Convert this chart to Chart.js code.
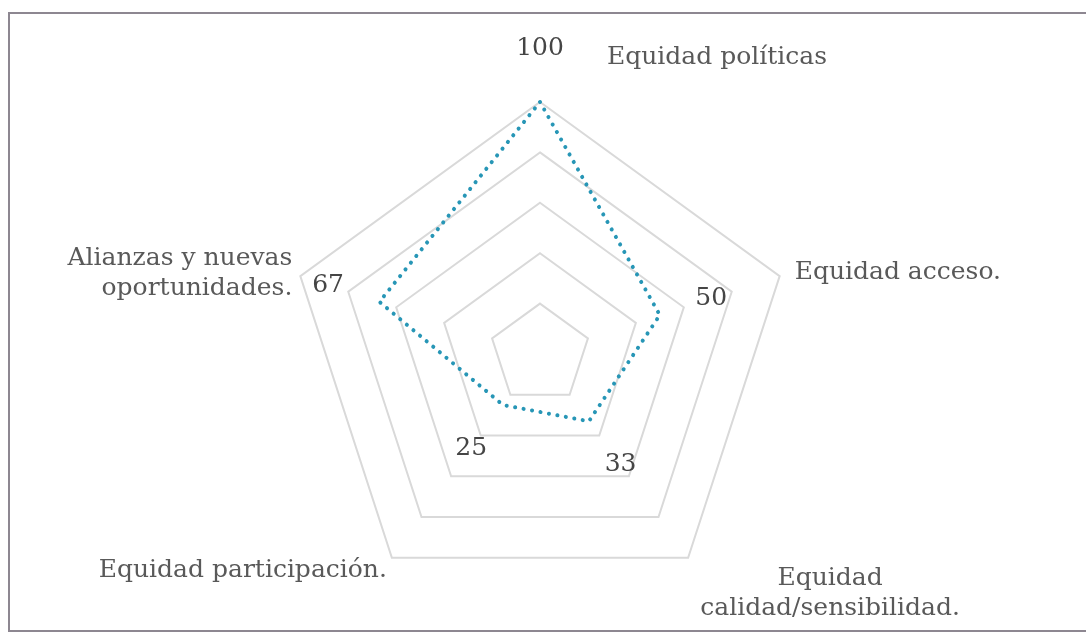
<!DOCTYPE html>
<html>
<head>
<meta charset="utf-8">
<script src="https://cdn.jsdelivr.net/npm/chart.js@4.4.1/dist/chart.umd.min.js"></script>
<style>
  html, body { margin: 0; padding: 0; background: #ffffff; }
  #wrap { position: relative; width: 1086px; height: 632px; overflow: hidden; }
  #frame { position: absolute; left: 8px; top: 12px; width: 1100px; height: 620px; border: 2px solid #8d8791; box-sizing: border-box; }
</style>
</head>
<body>
<div id="wrap">
  <canvas id="radarChart"></canvas>
  <div id="frame"></div>
</div>
<script>
// categories (axis names), one line per entry in each sub array
const categories = [
    ['Equidad políticas'],
    ['Equidad acceso.'],
    ['Equidad', 'calidad/sensibilidad.'],
    ['Equidad participación.'],
    ['Alianzas y nuevas', 'oportunidades.']
];
const scores = [100, 50, 33, 25, 67];
const gridSteps = [0, 20, 40, 60, 80, 100];

const textColor = '#595959';
const fontFamily = '"DejaVu Serif", "Liberation Serif", serif';

// where each axis name sits relative to the outer vertex (Excel style)
const labelLayout = [
    { dx: 67, dy: -45, align: 'left' },
    { dx: 15, dy: -4, align: 'left' },
    { dx: 142, dy: 21, align: 'center' },
    { dx: -5, dy: 13, align: 'right' },
    { dx: -8, dy: -18, align: 'right' }
];

// draws the axis names and the value labels
const labelsPlugin = {
    id: 'radarLabels',
    afterDatasetsDraw(chart) {
        const ctx = chart.ctx;
        const scale = chart.scales.r;
        const outer = scale.getDistanceFromCenterForValue(scale.max);
        ctx.save();
        ctx.fillStyle = textColor;
        ctx.font = '25px ' + fontFamily;
        ctx.textBaseline = 'middle';

        categories.forEach(function (lines, i) {
            const p = scale.getPointPosition(i, outer);
            const lay = labelLayout[i];
            ctx.textAlign = lay.align;
            lines.forEach(function (line, j) {
                ctx.fillText(line, p.x + lay.dx, p.y + lay.dy + j * 30);
            });
        });

        ctx.fillStyle = '#454545';
        ctx.textAlign = 'center';
        scores.forEach(function (v, i) {
            const d = scale.getDistanceFromCenterForValue(v) + 54;
            const p = scale.getPointPosition(i, d);
            ctx.fillText(String(v), p.x, p.y);
        });
        ctx.restore();
    }
};

document.addEventListener('DOMContentLoaded', function () {
    const ctx = document.getElementById('radarChart').getContext('2d');
    new Chart(ctx, {
        type: 'radar',
        data: {
            labels: categories.map(l => l.join(' ')),
            datasets: [{
                label: 'Equidad',
                data: scores,
                borderColor: '#2796b6',
                backgroundColor: 'rgba(0,0,0,0)',
                borderWidth: 4,
                borderDash: [0.1, 8.5],
                borderCapStyle: 'round',
                pointRadius: 0,
                fill: false
            }]
        },
        options: {
            responsive: true,
            maintainAspectRatio: false,
            animation: false,
            layout: { padding: { left: 100, right: 106, top: 102, bottom: 26 } },
            scales: {
                r: {
                    min: gridSteps[0],
                    max: gridSteps[gridSteps.length - 1],
                    ticks: { display: false, stepSize: gridSteps[1] - gridSteps[0] },
                    grid: { color: '#d9d9d9', lineWidth: 2 },
                    angleLines: { display: false },
                    pointLabels: { display: false }
                }
            },
            plugins: {
                legend: { display: false },
                tooltip: { enabled: false }
            }
        },
        plugins: [labelsPlugin]
    });
});
</script>
</body>
</html>
